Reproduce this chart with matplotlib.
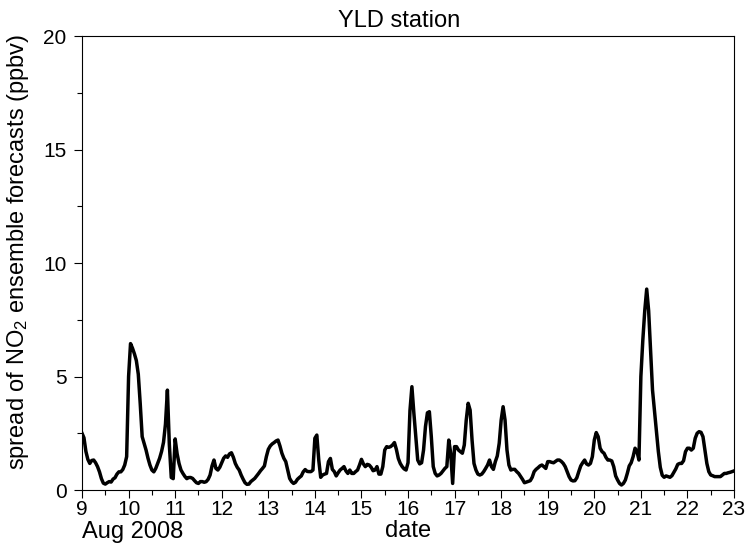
import numpy as np
import pandas as pd
import matplotlib
matplotlib.use("Agg")
import matplotlib.pyplot as plt
import matplotlib.dates as mdates
import matplotlib.ticker as mticker

plt.rcParams["font.family"] = ["Liberation Sans", "DejaVu Sans"]
plt.rcParams["mathtext.fontset"] = "custom"
plt.rcParams["mathtext.rm"] = "Liberation Sans"
plt.rcParams["mathtext.default"] = "rm"

# hourly spread (ppbv), one list per day of Aug 2008
aug09 = [2.5, 2.3, 1.7, 1.35, 1.17, 1.3, 1.32, 1.2, 1.03, 0.8, 0.5, 0.3,
         0.26, 0.32, 0.37, 0.35, 0.48, 0.54, 0.7, 0.8, 0.8, 0.9, 1.1, 1.47]
aug10 = [5.0, 6.45, 6.25, 6.0, 5.7, 5.1, 3.8, 2.35, 2.05, 1.76, 1.4, 1.1,
         0.88, 0.8, 0.95, 1.17, 1.4, 1.7, 2.1, 2.9, 4.4, 2.0, 0.55, 0.5]
aug11 = [2.25, 1.6, 1.17, 0.88, 0.73, 0.6, 0.5, 0.55, 0.55, 0.51, 0.41, 0.32,
         0.29, 0.37, 0.37, 0.34, 0.37, 0.47, 0.66, 1.06, 1.32, 0.95, 0.88, 1.0]
aug12 = [1.2, 1.4, 1.5, 1.44, 1.59, 1.64, 1.44, 1.17, 1.0, 0.88, 0.66, 0.48,
         0.32, 0.25, 0.26, 0.37, 0.44, 0.51, 0.62, 0.73, 0.85, 0.95, 1.06, 1.47]
aug13 = [1.79, 1.94, 2.03, 2.09, 2.16, 2.2, 1.94, 1.62, 1.4, 1.25, 0.88, 0.51,
         0.37, 0.29, 0.34, 0.47, 0.55, 0.62, 0.8, 0.9, 0.82, 0.81, 0.81, 0.88]
aug14 = [2.28, 2.42, 1.32, 0.56, 0.66, 0.7, 0.73, 1.25, 1.39, 0.91, 0.81, 0.62,
         0.76, 0.88, 0.95, 1.03, 0.84, 0.73, 0.88, 0.73, 0.73, 0.81, 0.88, 1.1]
aug15 = [1.35, 1.15, 1.03, 1.13, 1.1, 1.0, 0.85, 0.88, 1.03, 0.7, 0.7, 1.03,
         1.76, 1.91, 1.88, 1.91, 1.98, 2.09, 1.79, 1.39, 1.17, 1.03, 0.93, 0.88]
aug16 = [1.2, 3.5, 4.55, 3.4, 2.35, 1.32, 1.15, 1.2, 1.76, 2.8, 3.4, 3.45,
         2.35, 1.03, 0.73, 0.62, 0.66, 0.73, 0.84, 0.95, 1.03, 2.2, 1.62, 0.29]
aug17 = [1.91, 1.91, 1.76, 1.69, 1.62, 1.98, 3.08, 3.82, 3.52, 2.2, 1.17, 0.88,
         0.7, 0.66, 0.7, 0.81, 0.95, 1.1, 1.32, 1.03, 0.91, 1.25, 1.5, 2.06]
aug18 = [3.08, 3.67, 3.08, 1.76, 1.1, 0.88, 0.91, 0.91, 0.81, 0.73, 0.6, 0.47,
         0.32, 0.35, 0.38, 0.41, 0.56, 0.81, 0.91, 0.98, 1.06, 1.1, 1.03, 0.95]
aug19 = [1.25, 1.25, 1.22, 1.2, 1.26, 1.32, 1.32, 1.26, 1.17, 1.03, 0.81, 0.59,
         0.44, 0.4, 0.41, 0.54, 0.81, 1.06, 1.2, 1.32, 1.15, 1.1, 1.17, 1.47]
aug20 = [2.2, 2.53, 2.35, 1.84, 1.69, 1.62, 1.44, 1.32, 1.32, 1.28, 1.03, 0.62,
         0.44, 0.29, 0.22, 0.29, 0.44, 0.73, 1.06, 1.2, 1.47, 1.84, 1.7, 1.32]
aug21 = [5.0, 6.6, 7.9, 8.85, 7.9, 6.1, 4.4, 3.5, 2.6, 1.7, 1.0, 0.65,
         0.56, 0.62, 0.59, 0.56, 0.63, 0.78, 0.93, 1.13, 1.17, 1.17, 1.29, 1.69]
aug22 = [1.84, 1.84, 1.76, 1.84, 2.28, 2.5, 2.57, 2.54, 2.35, 1.76, 1.17, 0.81,
         0.66, 0.63, 0.59, 0.59, 0.59, 0.59, 0.66, 0.73, 0.73, 0.76, 0.78, 0.81]
aug23 = [0.84]

spread = np.concatenate([aug09, aug10, aug11, aug12, aug13, aug14, aug15,
                         aug16, aug17, aug18, aug19, aug20, aug21, aug22, aug23])
times = pd.date_range("2008-08-09", periods=len(spread), freq="h")

fig = plt.figure(figsize=(7.49, 5.43), dpi=100)
ax = fig.add_axes([0.1095, 0.0976, 0.8705, 0.8361])

ax.plot(times, spread, color="black", linewidth=2.5)

ax.set_xlim(times[0], times[-1])
ax.set_ylim(0, 20)

ax.xaxis.set_major_locator(mdates.DayLocator())
ax.xaxis.set_minor_locator(mdates.HourLocator(byhour=[12]))
ax.xaxis.set_major_formatter(mticker.FuncFormatter(lambda v, pos: str(mdates.num2date(v).day)))
ax.yaxis.set_major_locator(mticker.MultipleLocator(5))
ax.yaxis.set_minor_locator(mticker.MultipleLocator(2.5))

ax.tick_params(which="both", direction="out", width=0.8, labelsize=15)
ax.tick_params(which="major", length=6)
ax.tick_params(which="minor", length=3.6)
ax.tick_params(axis="x", which="major", pad=1.5)
ax.tick_params(axis="y", which="major", pad=5)
for sp in ax.spines.values():
    sp.set_linewidth(0.8)

ax.set_title("YLD station", fontsize=17, x=0.486, pad=6.5)
ax.set_xlabel("date", fontsize=17)
ax.xaxis.set_label_coords(0.5, -0.067)
ax.set_ylabel("spread of NO$_2$ ensemble forecasts (ppbv)", fontsize=17)
ax.yaxis.set_label_coords(-0.078, 0.525)
ax.text(0.0, -0.068, "Aug 2008", transform=ax.transAxes, ha="left", va="top", fontsize=17)

fig.savefig("out.png", dpi=100)
